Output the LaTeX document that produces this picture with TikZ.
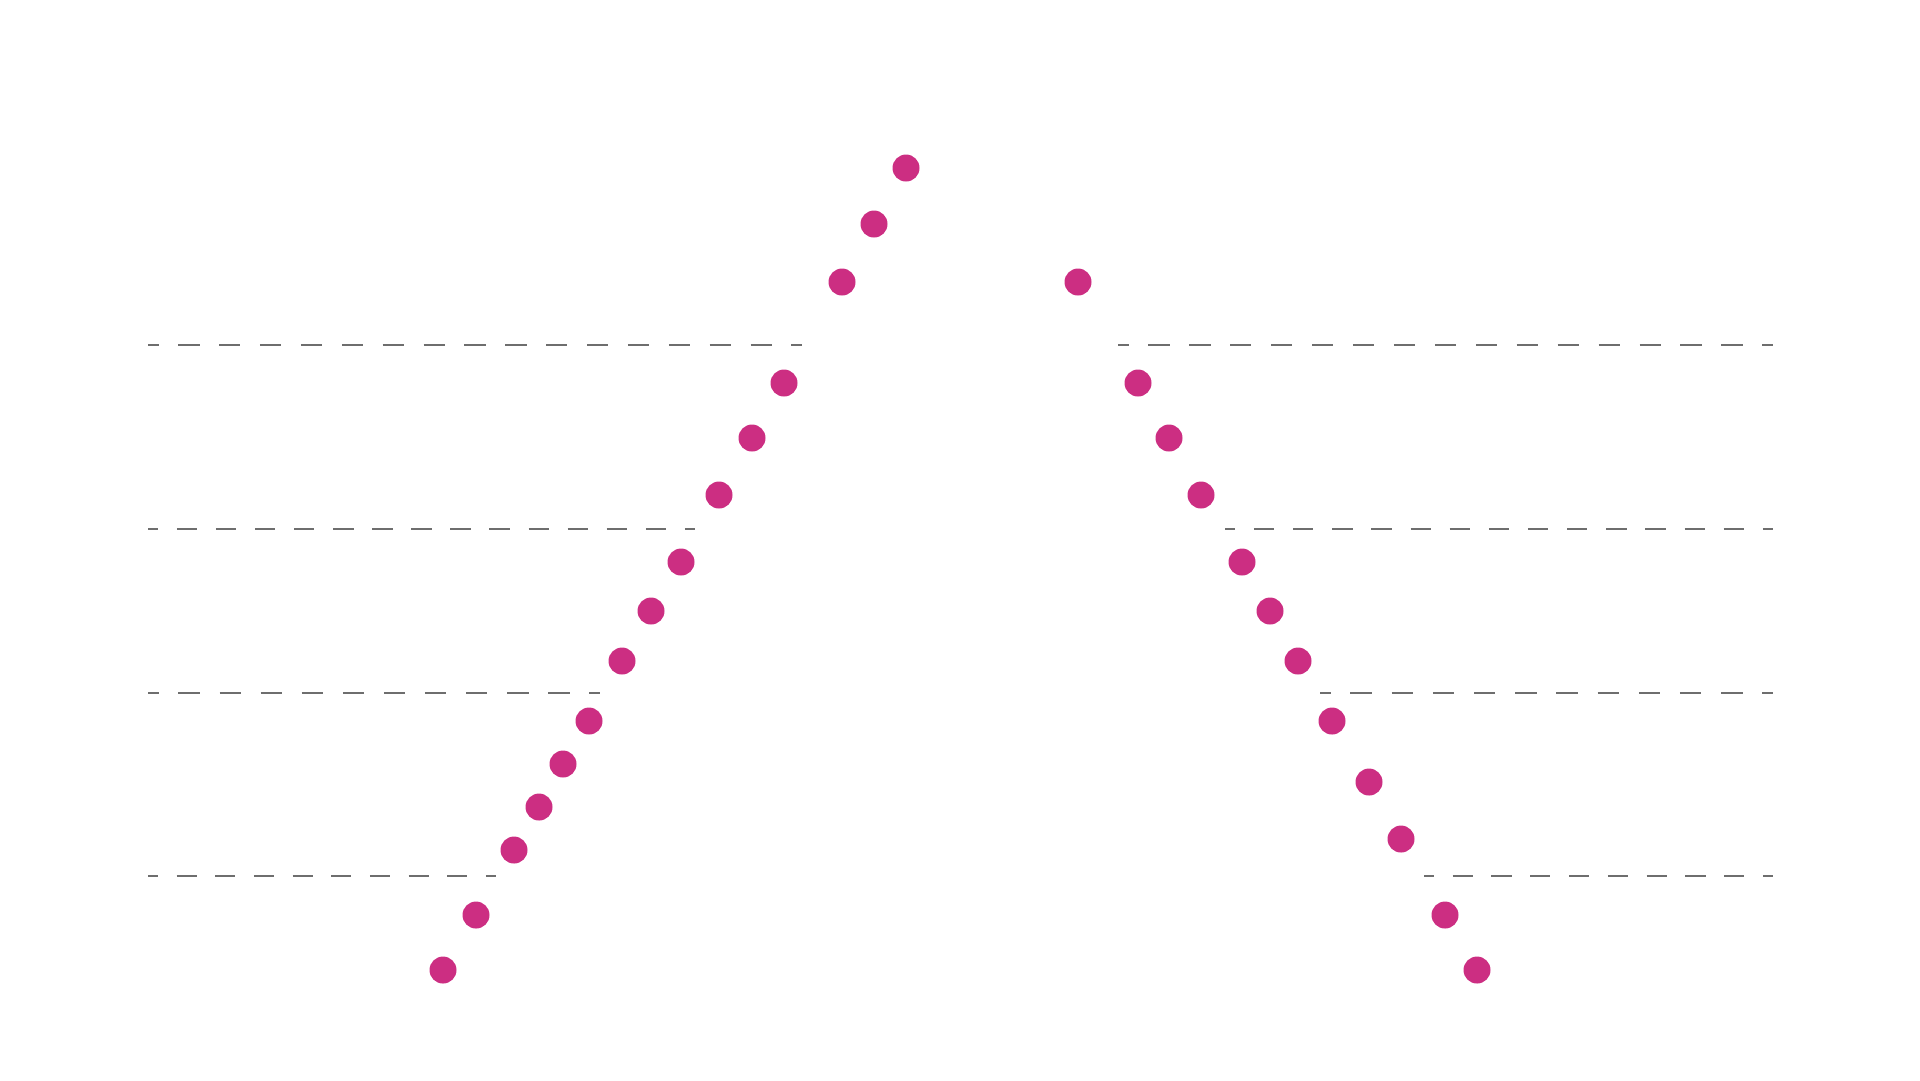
\documentclass[tikz,border=0pt]{standalone}
\usepackage{tikz}
\definecolor{dotpink}{HTML}{CC2E82}
\definecolor{guidegray}{HTML}{6E6E6E}
\tikzset{
  dot/.style={circle,fill=dotpink,draw=none,minimum size=2.7mm,inner sep=0pt},
  guide/.style={draw=guidegray,line width=0.57pt},
}
\begin{document}
\begin{tikzpicture}[x=0.1mm,y=-0.1mm]
  \useasboundingbox (0,0) rectangle (1920,1080);
  % dashed guides, half dash at both ends
  \foreach \xa/\xb/\y/\n in {148/802/345/16,1118/1773/345/16,148/695/529/14,1225/1773/529/14,
                             148/600/693/11,1320/1773/693/11,148/496/875.5/9,1424/1773/875.5/9}
    {\pgfmathsetmacro\per{(\xb-\xa)/\n*0.284528}
     \pgfmathsetmacro\dashon{0.52*\per}\pgfmathsetmacro\dashoff{0.48*\per}\pgfmathsetmacro\dashph{0.26*\per}
     \draw[guide,dash pattern=on \dashon pt off \dashoff pt,dash phase=\dashph pt] (\xa,\y) -- (\xb,\y);}
  % rising branch
  \foreach \x/\y [count=\i] in {906/168,874/224,842/282,784/383,752/438,719/495,681/562,651/611,622/661,589/721,563/764,539/807,514/850,476/915,443/970}
    \node[dot] (l\i) at (\x,\y) {};
  % falling branch
  \foreach \x/\y [count=\i] in {1078/282,1138/383,1169/438,1201/495,1242/562,1270/611,1298/661,1332/721,1369/782,1401/839,1445/915,1477/970}
    \node[dot] (r\i) at (\x,\y) {};
\end{tikzpicture}
\end{document}
